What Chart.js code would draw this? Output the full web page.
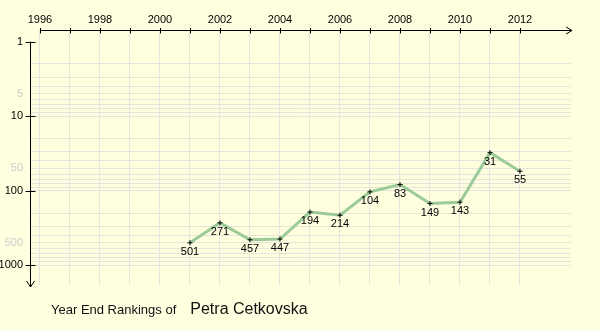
<!DOCTYPE html>
<html>
<head>
<meta charset="utf-8">
<script src="https://cdn.jsdelivr.net/npm/chart.js@4.4.1/dist/chart.umd.min.js"></script>
<style>
  html, body { margin: 0; padding: 0; background: #ffffe0; }
  #wrap { position: relative; width: 600px; height: 330px; }
  #caption {
    position: absolute; left: 51px; top: 299px;
    font-family: 'Liberation Sans', Arial, sans-serif; color: #111;
    line-height: 20px; white-space: nowrap;
  }
  #caption .lead { font-size: 13px; }
  #caption .name { font-size: 16px; margin-left: 14px; }
</style>
</head>
<body>
<div id="wrap">
  <canvas id="chart" width="600" height="330"></canvas>
  <div id="caption"><span class="lead">Year End Rankings of</span><span class="name">Petra Cetkovska</span></div>
</div>
<script>
// ── Data ─────────────────────────────────────────────────────────────────────
const years = [2001, 2002, 2003, 2004, 2005, 2006, 2007, 2008, 2009, 2010, 2011, 2012]
const ranks = [501, 271, 457, 447, 194, 214, 104, 83, 149, 143, 31, 55]

// x ticks: every year gets a tick mark, even years get a label
const xTickYears = [1996, 1997, 1998, 1999, 2000, 2001, 2002, 2003, 2004, 2005, 2006, 2007, 2008, 2009, 2010, 2011, 2012]
const xLabelYears = [1996, 1998, 2000, 2002, 2004, 2006, 2008, 2010, 2012]

// y grid (log scale, 1..9 per decade), labelled ranks, and the faint ones
const yGridValues = [1, 2, 3, 4, 5, 6, 7, 8, 9,
  10, 20, 30, 40, 50, 60, 70, 80, 90,
  100, 200, 300, 400, 500, 600, 700, 800, 900, 1000]
const yMajorTicks = [1, 10, 100, 1000]
const yFaintLabels = [5, 50, 500]

const FONT = "'Liberation Sans', Arial, sans-serif"
const GRID = '#e5e5dc'

// ── Axis lines, tick marks and arrow heads ───────────────────────────────────
const arrowAxesPlugin = {
  id: 'arrowAxes',
  beforeDatasetsDraw(chart) {
    const { ctx, chartArea } = chart
    const xs = chart.scales.x
    const ys = chart.scales.y
    const axisY = chartArea.top + 0.5
    const axisX = chartArea.left + 0.5
    const xStart = xs.getPixelForValue(xTickYears[0])
    const xEnd = chartArea.right + 1
    const yStart = ys.getPixelForValue(yMajorTicks[0])
    const yEnd = chartArea.bottom + 2

    ctx.save()
    ctx.strokeStyle = '#000'
    ctx.lineWidth = 1
    ctx.beginPath()
    // x axis + arrow
    ctx.moveTo(xStart, axisY)
    ctx.lineTo(xEnd, axisY)
    ctx.moveTo(xEnd - 6, axisY - 3.5)
    ctx.lineTo(xEnd, axisY)
    ctx.lineTo(xEnd - 6, axisY + 3.5)
    xTickYears.forEach(yr => {
      const px = Math.round(xs.getPixelForValue(yr)) + 0.5
      ctx.moveTo(px, axisY - 2.5)
      ctx.lineTo(px, axisY + 3)
    })
    // y axis + arrow
    ctx.moveTo(axisX, yStart)
    ctx.lineTo(axisX, yEnd)
    ctx.moveTo(axisX - 4, yEnd - 6)
    ctx.lineTo(axisX, yEnd)
    ctx.lineTo(axisX + 4, yEnd - 6)
    yMajorTicks.forEach(v => {
      const py = Math.round(ys.getPixelForValue(v)) + 0.5
      ctx.moveTo(axisX - 5, py)
      ctx.lineTo(axisX + 5, py)
    })
    ctx.stroke()
    ctx.restore()
  },
}

// ── Rank labels under each point ─────────────────────────────────────────────
const rankLabelsPlugin = {
  id: 'rankLabels',
  afterDatasetsDraw(chart) {
    const ctx = chart.ctx
    const meta = chart.getDatasetMeta(0)
    ctx.save()
    ctx.font = `11px ${FONT}`
    ctx.fillStyle = '#000'
    ctx.textAlign = 'center'
    ctx.textBaseline = 'middle'
    meta.data.forEach((el, i) => {
      const { x, y } = el.getProps(['x', 'y'], true)
      ctx.fillText(String(ranks[i]), x, y + 9)
    })
    ctx.restore()
  },
}

new Chart(document.getElementById('chart'), {
  type: 'line',
  plugins: [arrowAxesPlugin, rankLabelsPlugin],
  data: {
    datasets: [{
      label: 'Rank',
      data: years.map((yr, i) => ({ x: yr, y: ranks[i] })),
      borderColor: '#9acb98',
      borderWidth: 3,
      tension: 0,
      fill: false,
      pointStyle: 'cross',
      pointRadius: 2.5,
      pointBorderColor: '#000',
      pointBorderWidth: 1,
    }],
  },
  options: {
    responsive: false,
    animation: false,
    layout: { padding: { top: 0, left: 0, right: 29, bottom: 45 } },
    plugins: {
      legend: { display: false },
      tooltip: { enabled: false },
    },
    scales: {
      x: {
        type: 'linear',
        position: 'top',
        min: 1995.667,
        max: 2013.7,
        afterBuildTicks: s => { s.ticks = xTickYears.map(v => ({ value: v })) },
        afterFit: s => { s.height = 30 },
        grid: { color: GRID, drawTicks: false },
        border: { display: false },
        ticks: {
          autoSkip: false,
          maxRotation: 0,
          padding: 3,
          color: '#000',
          font: { family: FONT, size: 11 },
          callback: v => xLabelYears.includes(v) ? String(v) : '',
        },
      },
      y: {
        type: 'logarithmic',
        reverse: true,
        min: 0.7356,
        max: 1848,
        afterBuildTicks: s => { s.ticks = yGridValues.map(v => ({ value: v })) },
        afterFit: s => { s.width = 30 },
        grid: {
          drawTicks: false,
          color: c => c.tick && c.tick.value === 1 ? 'rgba(0,0,0,0)' : GRID,
        },
        border: { display: false },
        ticks: {
          autoSkip: false,
          padding: 7,
          font: { family: FONT, size: 11 },
          color: c => yFaintLabels.includes(c.tick.value) ? '#cccccc' : '#000',
          callback: v => (yMajorTicks.includes(v) || yFaintLabels.includes(v)) ? String(v) : '',
        },
      },
    },
  },
})
</script>
</body>
</html>
